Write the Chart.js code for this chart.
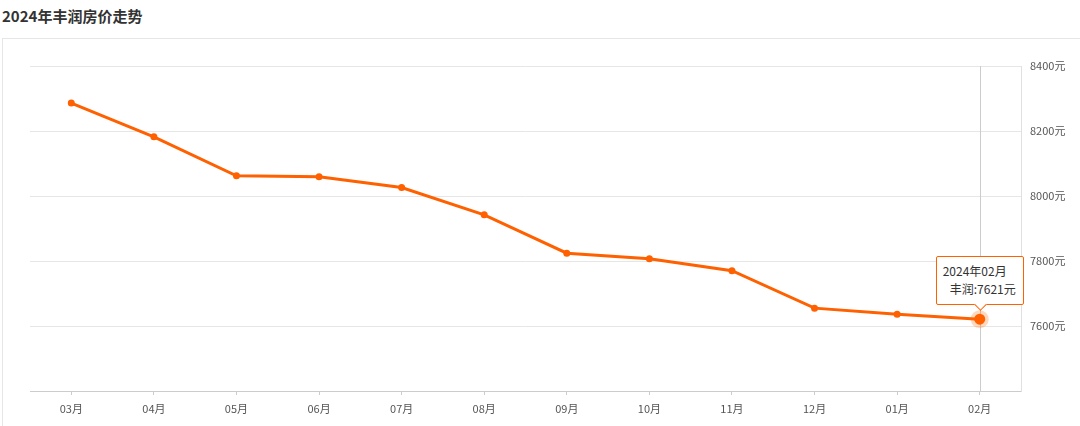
<!DOCTYPE html>
<html>
<head>
<meta charset="utf-8">
<script src="https://cdn.jsdelivr.net/npm/chart.js@4/dist/chart.umd.min.js"></script>
<style>
  html, body { margin: 0; padding: 0; background: #fff; }
  body { width: 1080px; height: 426px; position: relative; overflow: hidden; font-family: "Noto Sans CJK SC", "Noto Sans", sans-serif; }
  #title { position: absolute; left: 2px; top: 4px; font-size: 15px; font-weight: bold; color: #333; line-height: 24px; }
  #box { position: absolute; left: 2px; top: 38px; width: 1100px; height: 400px; border: 1px solid #e6e6e6; }
  #c { position: absolute; left: 0; top: 0; }
  #tip { position: absolute; box-sizing: border-box; width: 88px; height: 49px; border: 1px solid #ff6000; border-radius: 2px; background: #fff; color: #333; font-size: 12px; line-height: 18px; padding-top: 5px; }
  #tip .t { padding-left: 6px; white-space: nowrap; }
  #tip .b { text-align: right; padding-right: 7px; white-space: nowrap; }
  #tip .arrow { position: absolute; width: 8px; height: 8px; left: 39px; bottom: -5px; background: #fff; border-right: 1px solid #ff6000; border-bottom: 1px solid #ff6000; transform: rotate(45deg); }
</style>
</head>
<body>
<div id="title">2024年丰润房价走势</div>
<div id="box"></div>
<canvas id="c" width="1080" height="426"></canvas>
<script>
const categories = ['03月','04月','05月','06月','07月','08月','09月','10月','11月','12月','01月','02月'];
const fullMonths = ['2023年03月','2023年04月','2023年05月','2023年06月','2023年07月','2023年08月','2023年09月','2023年10月','2023年11月','2023年12月','2024年01月','2024年02月'];
const seriesName = '丰润';
const prices = [8286, 8182, 8062, 8059, 8026, 7942, 7824, 7807, 7770, 7655, 7636, 7621];
const yTicks = [7400, 7600, 7800, 8000, 8200, 8400];
const activeIndex = 11;

const FONT = '"Noto Sans CJK SC", "Noto Sans", sans-serif';

const crosshair = {
  id: 'crosshair',
  beforeDatasetsDraw(chart) {
    const x = chart.scales.x.getPixelForValue(activeIndex);
    const a = chart.chartArea;
    const ctx = chart.ctx;
    ctx.save();
    ctx.strokeStyle = '#cccccc';
    ctx.lineWidth = 1;
    ctx.beginPath();
    ctx.moveTo(Math.round(x) + 0.5, a.top);
    ctx.lineTo(Math.round(x) + 0.5, a.bottom);
    ctx.stroke();
    ctx.restore();
  },
  afterDatasetsDraw(chart) {
    const p = chart.getDatasetMeta(0).data[activeIndex];
    const ctx = chart.ctx;
    ctx.save();
    ctx.fillStyle = 'rgba(255,102,0,0.25)';
    ctx.beginPath();
    ctx.arc(p.x, p.y, 9, 0, Math.PI * 2);
    ctx.fill();
    ctx.fillStyle = '#ff6000';
    ctx.beginPath();
    ctx.arc(p.x, p.y, 5.5, 0, Math.PI * 2);
    ctx.fill();
    ctx.restore();
  }
};

function externalTip(context) {
  const tt = context.tooltip;
  let el = document.getElementById('tip');
  if (!el) {
    el = document.createElement('div');
    el.id = 'tip';
    el.innerHTML = '<div class="t"></div><div class="b"></div><div class="arrow"></div>';
    document.body.appendChild(el);
  }
  if (!tt.dataPoints || !tt.dataPoints.length) { el.style.display = 'none'; return; }
  const dp = tt.dataPoints[0];
  const ds = dp.dataset;
  el.style.display = 'block';
  el.querySelector('.t').textContent = fullMonths[dp.dataIndex];
  el.querySelector('.b').textContent = ds.label + ':' + dp.raw + '元';
  const canvas = context.chart.canvas;
  const px = canvas.offsetLeft + dp.element.x;
  const py = canvas.offsetTop + dp.element.y;
  el.style.left = (px - 44) + 'px';
  el.style.top = (py - 14 - 49) + 'px';
}

const chart = new Chart(document.getElementById('c'), {
  type: 'line',
  data: {
    labels: categories,
    datasets: [{
      label: seriesName,
      data: prices,
      borderColor: '#ff6000',
      backgroundColor: '#ff6000',
      borderWidth: 3,
      pointRadius: 3.5,
      pointHoverRadius: 3.5,
      pointBorderWidth: 0,
      pointHoverBorderWidth: 0,
      tension: 0,
      fill: false
    }]
  },
  options: {
    responsive: false,
    animation: false,
    events: [],
    layout: { padding: { left: 30, top: 66, right: 0, bottom: 0 } },
    plugins: {
      legend: { display: false },
      title: { display: false },
      tooltip: { enabled: false, external: externalTip }
    },
    scales: {
      x: {
        type: 'category',
        offset: true,
        grid: { display: true, drawOnChartArea: false, drawTicks: true, tickLength: 4, color: '#cccccc', offset: false },
        border: { display: true, color: '#cccccc', width: 1 },
        ticks: { color: '#555555', font: { family: FONT, size: 11 }, padding: 7, autoSkip: false, maxRotation: 0 },
        afterFit(scale) { scale.height = 35; }
      },
      y: {
        type: 'linear',
        position: 'right',
        min: 7400,
        max: 8400,
        afterBuildTicks(scale) { scale.ticks = yTicks.map(v => ({ value: v })); },
        grid: { color: '#e6e6e6', drawTicks: false },
        border: { display: true, color: '#e0e0e0', width: 1 },
        ticks: {
          color: '#555555',
          font: { family: FONT, size: 11 },
          padding: 9,
          callback: (v) => v === 7400 ? '' : v + '元'
        },
        afterFit(scale) { scale.width = 59; }
      }
    }
  },
  plugins: [crosshair]
});

const pt = chart.getDatasetMeta(0).data[activeIndex];
chart.setActiveElements([{ datasetIndex: 0, index: activeIndex }]);
chart.tooltip.setActiveElements([{ datasetIndex: 0, index: activeIndex }], { x: pt.x, y: pt.y });
chart.update('none');
</script>
</body>
</html>
